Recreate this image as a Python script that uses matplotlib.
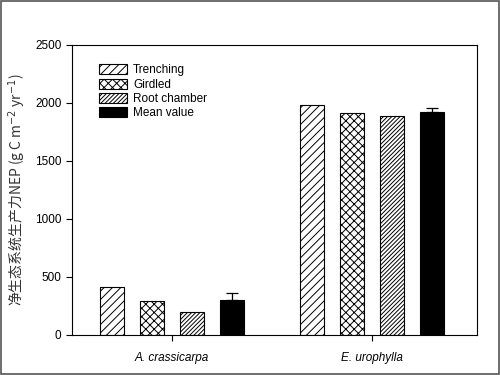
import numpy as np
import matplotlib
matplotlib.use("Agg")
import matplotlib.pyplot as plt
from matplotlib.patches import Rectangle

plt.rcParams['font.family'] = ['Liberation Sans', 'Noto Sans CJK SC', 'DejaVu Sans']
plt.rcParams['hatch.linewidth'] = 0.7

# data
species = ["A. crassicarpa", "E. urophylla"]
methods = ["Trenching", "Girdled", "Root chamber", "Mean value"]
trenching = [415, 1985]
girdled = [290, 1910]
root_chamber = [200, 1885]
mean_value = [300, 1925]
mean_err = [65, 35]

series = [trenching, girdled, root_chamber, mean_value]
hatches = ["////", "xxxx", "////////", None]
faces = ["white", "white", "white", "black"]

fig = plt.figure(figsize=(5, 3.75), dpi=100)
ax = fig.add_axes([0.144, 0.107, 0.81, 0.773])

centers = np.array([0.0, 5.0])
offsets = [-1.5, -0.5, 0.5, 1.5]
for i, vals in enumerate(series):
    ax.bar(centers + offsets[i], vals, width=0.6, color=faces[i],
           edgecolor="black", hatch=hatches[i], linewidth=0.8,
           label=methods[i], zorder=2)
ax.errorbar(centers + offsets[3], mean_value, yerr=[[0, 0], mean_err],
            fmt="none", ecolor="black", elinewidth=0.9, capsize=4, capthick=0.9, zorder=3)

ax.set_xlim(-2.5, 7.62)
ax.set_ylim(0, 2500)
ax.set_yticks([0, 500, 1000, 1500, 2000, 2500])
ax.set_xticks(centers)
ax.set_xticklabels(species, style="italic", fontsize=8.5)
ax.tick_params(axis="y", labelsize=8.5, direction="out", length=4, width=0.8)
ax.tick_params(axis="x", direction="out", length=4, width=0.8, pad=8)
for s in ax.spines.values():
    s.set_linewidth(0.8)
ax.set_ylabel("净生态系统生产力NEP (g C m$^{-2}$ yr$^{-1}$)", fontsize=10,
              family="Noto Sans CJK SC", color="#333333", labelpad=5)

ax.legend(loc="upper left", bbox_to_anchor=(0.04, 0.97), frameon=False, fontsize=8.5,
          handlelength=2.4, handleheight=0.9, labelspacing=0.2, handletextpad=0.5)

fig.patches.append(Rectangle((0.002, 0.003), 0.996, 0.994, transform=fig.transFigure,
                             fill=False, edgecolor="#555555", linewidth=1.2))

fig.savefig("out.png", dpi=100)
